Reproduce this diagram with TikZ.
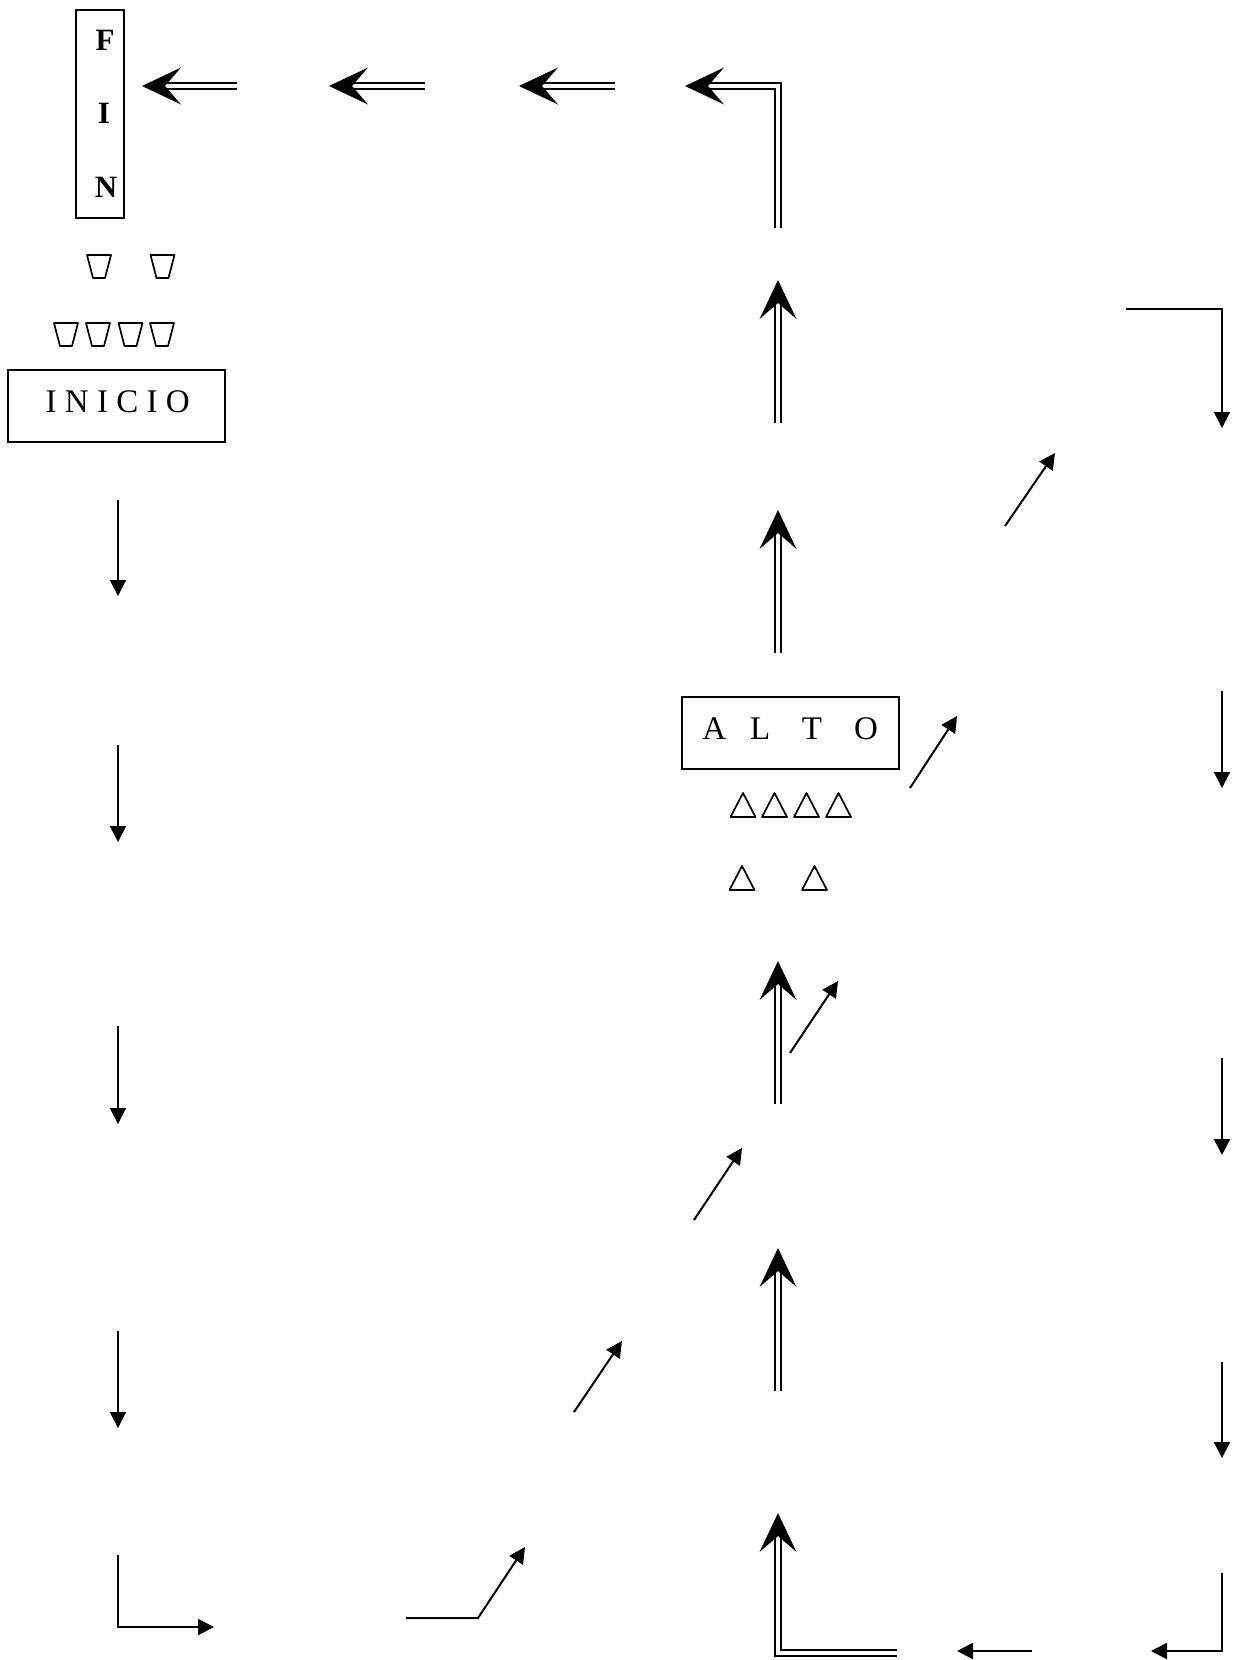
\documentclass[tikz,border=0pt]{standalone}
\usepackage{fontspec}
\setmainfont{Liberation Serif}
\usetikzlibrary{arrows.meta}
\tikzset{
  sarrow/.style={line width=2pt, line join=miter, -{Triangle[length=16pt,width=16pt]}},
  dshaft/.style={double, line width=2.5pt, double distance=3.2pt, line cap=butt, line join=miter},
  dtip/.pic={\fill (0,0) -- (-39,-18.5) -- (-23,0) -- (-39,18.5) -- cycle;},
  cup/.pic={\draw[line width=1.7pt, line join=round] (-12,0) -- (12,0) -- (6,23) -- (-6,23) -- cycle;},
  tri/.pic={\draw[line width=1.7pt, line join=round] (0,0) -- (12.5,24) -- (-12.5,24) -- cycle;},
  box/.style={draw, line width=1.7pt, inner sep=0pt},
  bigtxt/.style={font=\fontsize{33}{40}\selectfont, inner sep=0pt},
  fintxt/.style={font=\fontsize{31}{36}\selectfont\bfseries, inner sep=0pt}
}
\begin{document}
\begin{tikzpicture}[x=1pt,y=-1pt]
\fill[white] (0,0) rectangle (1233,1660);
\useasboundingbox (0,0) rectangle (1233,1660);

% FIN box
\node[box, minimum width=48pt, minimum height=208pt] (fin) at (100,114) {};
\node[fintxt, anchor=base] (finF) at (105,50) {F};
\node[fintxt, anchor=base] (finI) at (104,123) {I};
\node[fintxt, anchor=base] (finN) at (106,197) {N};

% cups
\pic at (99,255) {cup};
\pic at (162.5,255) {cup};
\pic at (66,323) {cup};
\pic at (98,323) {cup};
\pic at (130.5,323) {cup};
\pic at (162,323) {cup};

% INICIO
\node[box, minimum width=217pt, minimum height=72pt] (inicio) at (116.5,406) {};
\node[bigtxt, anchor=base west] (iniciotxt) at (45.5,412) {I N I C I O};

% ALTO
\node[box, minimum width=217pt, minimum height=72pt] (alto) at (790.5,733) {};
\node[bigtxt, anchor=base west] (altotxt) at (702.1,739) {A\hspace{23.9pt}L\hspace{31.8pt}T\hspace{32pt}O};

% triangles
\pic at (743,793) {tri};
\pic at (774.5,793) {tri};
\pic at (806.5,793) {tri};
\pic at (838.5,793) {tri};
\pic at (742,866) {tri};
\pic at (814.5,866) {tri};

% top row double arrows
\coordinate (h1t) at (142,86); \coordinate (h1n) at (166,86); \coordinate (h1s) at (237,86);
\coordinate (h2t) at (329,86); \coordinate (h2n) at (353,86); \coordinate (h2s) at (425,86);
\coordinate (h3t) at (519,86); \coordinate (h3n) at (543,86); \coordinate (h3s) at (615,86);
\coordinate (h4t) at (685,86); \coordinate (h4n) at (709,86); \coordinate (h4c) at (778,86); \coordinate (h4s) at (778,228);
\draw[dshaft] (h1s) -- (h1n); \pic[rotate=180] at (h1t) {dtip};
\draw[dshaft] (h2s) -- (h2n); \pic[rotate=180] at (h2t) {dtip};
\draw[dshaft] (h3s) -- (h3n); \pic[rotate=180] at (h3t) {dtip};
\draw[dshaft] (h4s) -- (h4c) -- (h4n); \pic[rotate=180] at (h4t) {dtip};

% vertical double up arrows
\coordinate (vat) at (778,280); \coordinate (van) at (778,304); \coordinate (vas) at (778,423);
\coordinate (vbt) at (778,510); \coordinate (vbn) at (778,534); \coordinate (vbs) at (778,653);
\coordinate (vct) at (778,961); \coordinate (vcn) at (778,985); \coordinate (vcs) at (778,1104);
\coordinate (vdt) at (778,1248); \coordinate (vdn) at (778,1272); \coordinate (vds) at (778,1391);
\coordinate (vet) at (778,1513); \coordinate (ven) at (778,1537); \coordinate (vec) at (778,1653); \coordinate (ves) at (897,1653);
\draw[dshaft] (vas) -- (van); \pic[rotate=90] at (vat) {dtip};
\draw[dshaft] (vbs) -- (vbn); \pic[rotate=90] at (vbt) {dtip};
\draw[dshaft] (vcs) -- (vcn); \pic[rotate=90] at (vct) {dtip};
\draw[dshaft] (vds) -- (vdn); \pic[rotate=90] at (vdt) {dtip};
\draw[dshaft] (ves) -- (vec) -- (ven); \pic[rotate=90] at (vet) {dtip};

% left column
\coordinate (l1a) at (118,500); \coordinate (l1b) at (118,596);
\coordinate (l2a) at (118,745); \coordinate (l2b) at (118,842);
\coordinate (l3a) at (118,1026); \coordinate (l3b) at (118,1124);
\coordinate (l4a) at (118,1331); \coordinate (l4b) at (118,1428);
\coordinate (l5a) at (118,1555); \coordinate (l5c) at (118,1627); \coordinate (l5b) at (214,1627);
\draw[sarrow] (l1a) -- (l1b);
\draw[sarrow] (l2a) -- (l2b);
\draw[sarrow] (l3a) -- (l3b);
\draw[sarrow] (l4a) -- (l4b);
\draw[sarrow] (l5a) -- (l5c) -- (l5b);

% right column
\coordinate (r1a) at (1126,309); \coordinate (r1c) at (1222,309); \coordinate (r1b) at (1222,428);
\coordinate (r2a) at (1222,691); \coordinate (r2b) at (1222,788);
\coordinate (r3a) at (1222,1058); \coordinate (r3b) at (1222,1155);
\coordinate (r4a) at (1222,1362); \coordinate (r4b) at (1222,1458);
\coordinate (r5a) at (1222,1573); \coordinate (r5c) at (1222,1651); \coordinate (r5b) at (1151,1651);
\coordinate (ma) at (1032,1651); \coordinate (mb) at (957,1651);
\draw[sarrow] (r1a) -- (r1c) -- (r1b);
\draw[sarrow] (r2a) -- (r2b);
\draw[sarrow] (r3a) -- (r3b);
\draw[sarrow] (r4a) -- (r4b);
\draw[sarrow] (r5a) -- (r5c) -- (r5b);
\draw[sarrow] (ma) -- (mb);

% diagonal arrows
\coordinate (d1a) at (1005,526); \coordinate (d1b) at (1055,453);
\coordinate (d2a) at (910,788); \coordinate (d2b) at (957,716);
\coordinate (d3a) at (790,1053); \coordinate (d3b) at (838,981);
\coordinate (d4a) at (694,1220); \coordinate (d4b) at (742,1148);
\coordinate (d5a) at (574,1412); \coordinate (d5b) at (622,1341);
\coordinate (d6a) at (406,1618); \coordinate (d6c) at (478,1618); \coordinate (d6b) at (525,1547);
\draw[sarrow] (d1a) -- (d1b);
\draw[sarrow] (d2a) -- (d2b);
\draw[sarrow] (d3a) -- (d3b);
\draw[sarrow] (d4a) -- (d4b);
\draw[sarrow] (d5a) -- (d5b);
\draw[sarrow] (d6a) -- (d6c) -- (d6b);
\end{tikzpicture}
\end{document}
